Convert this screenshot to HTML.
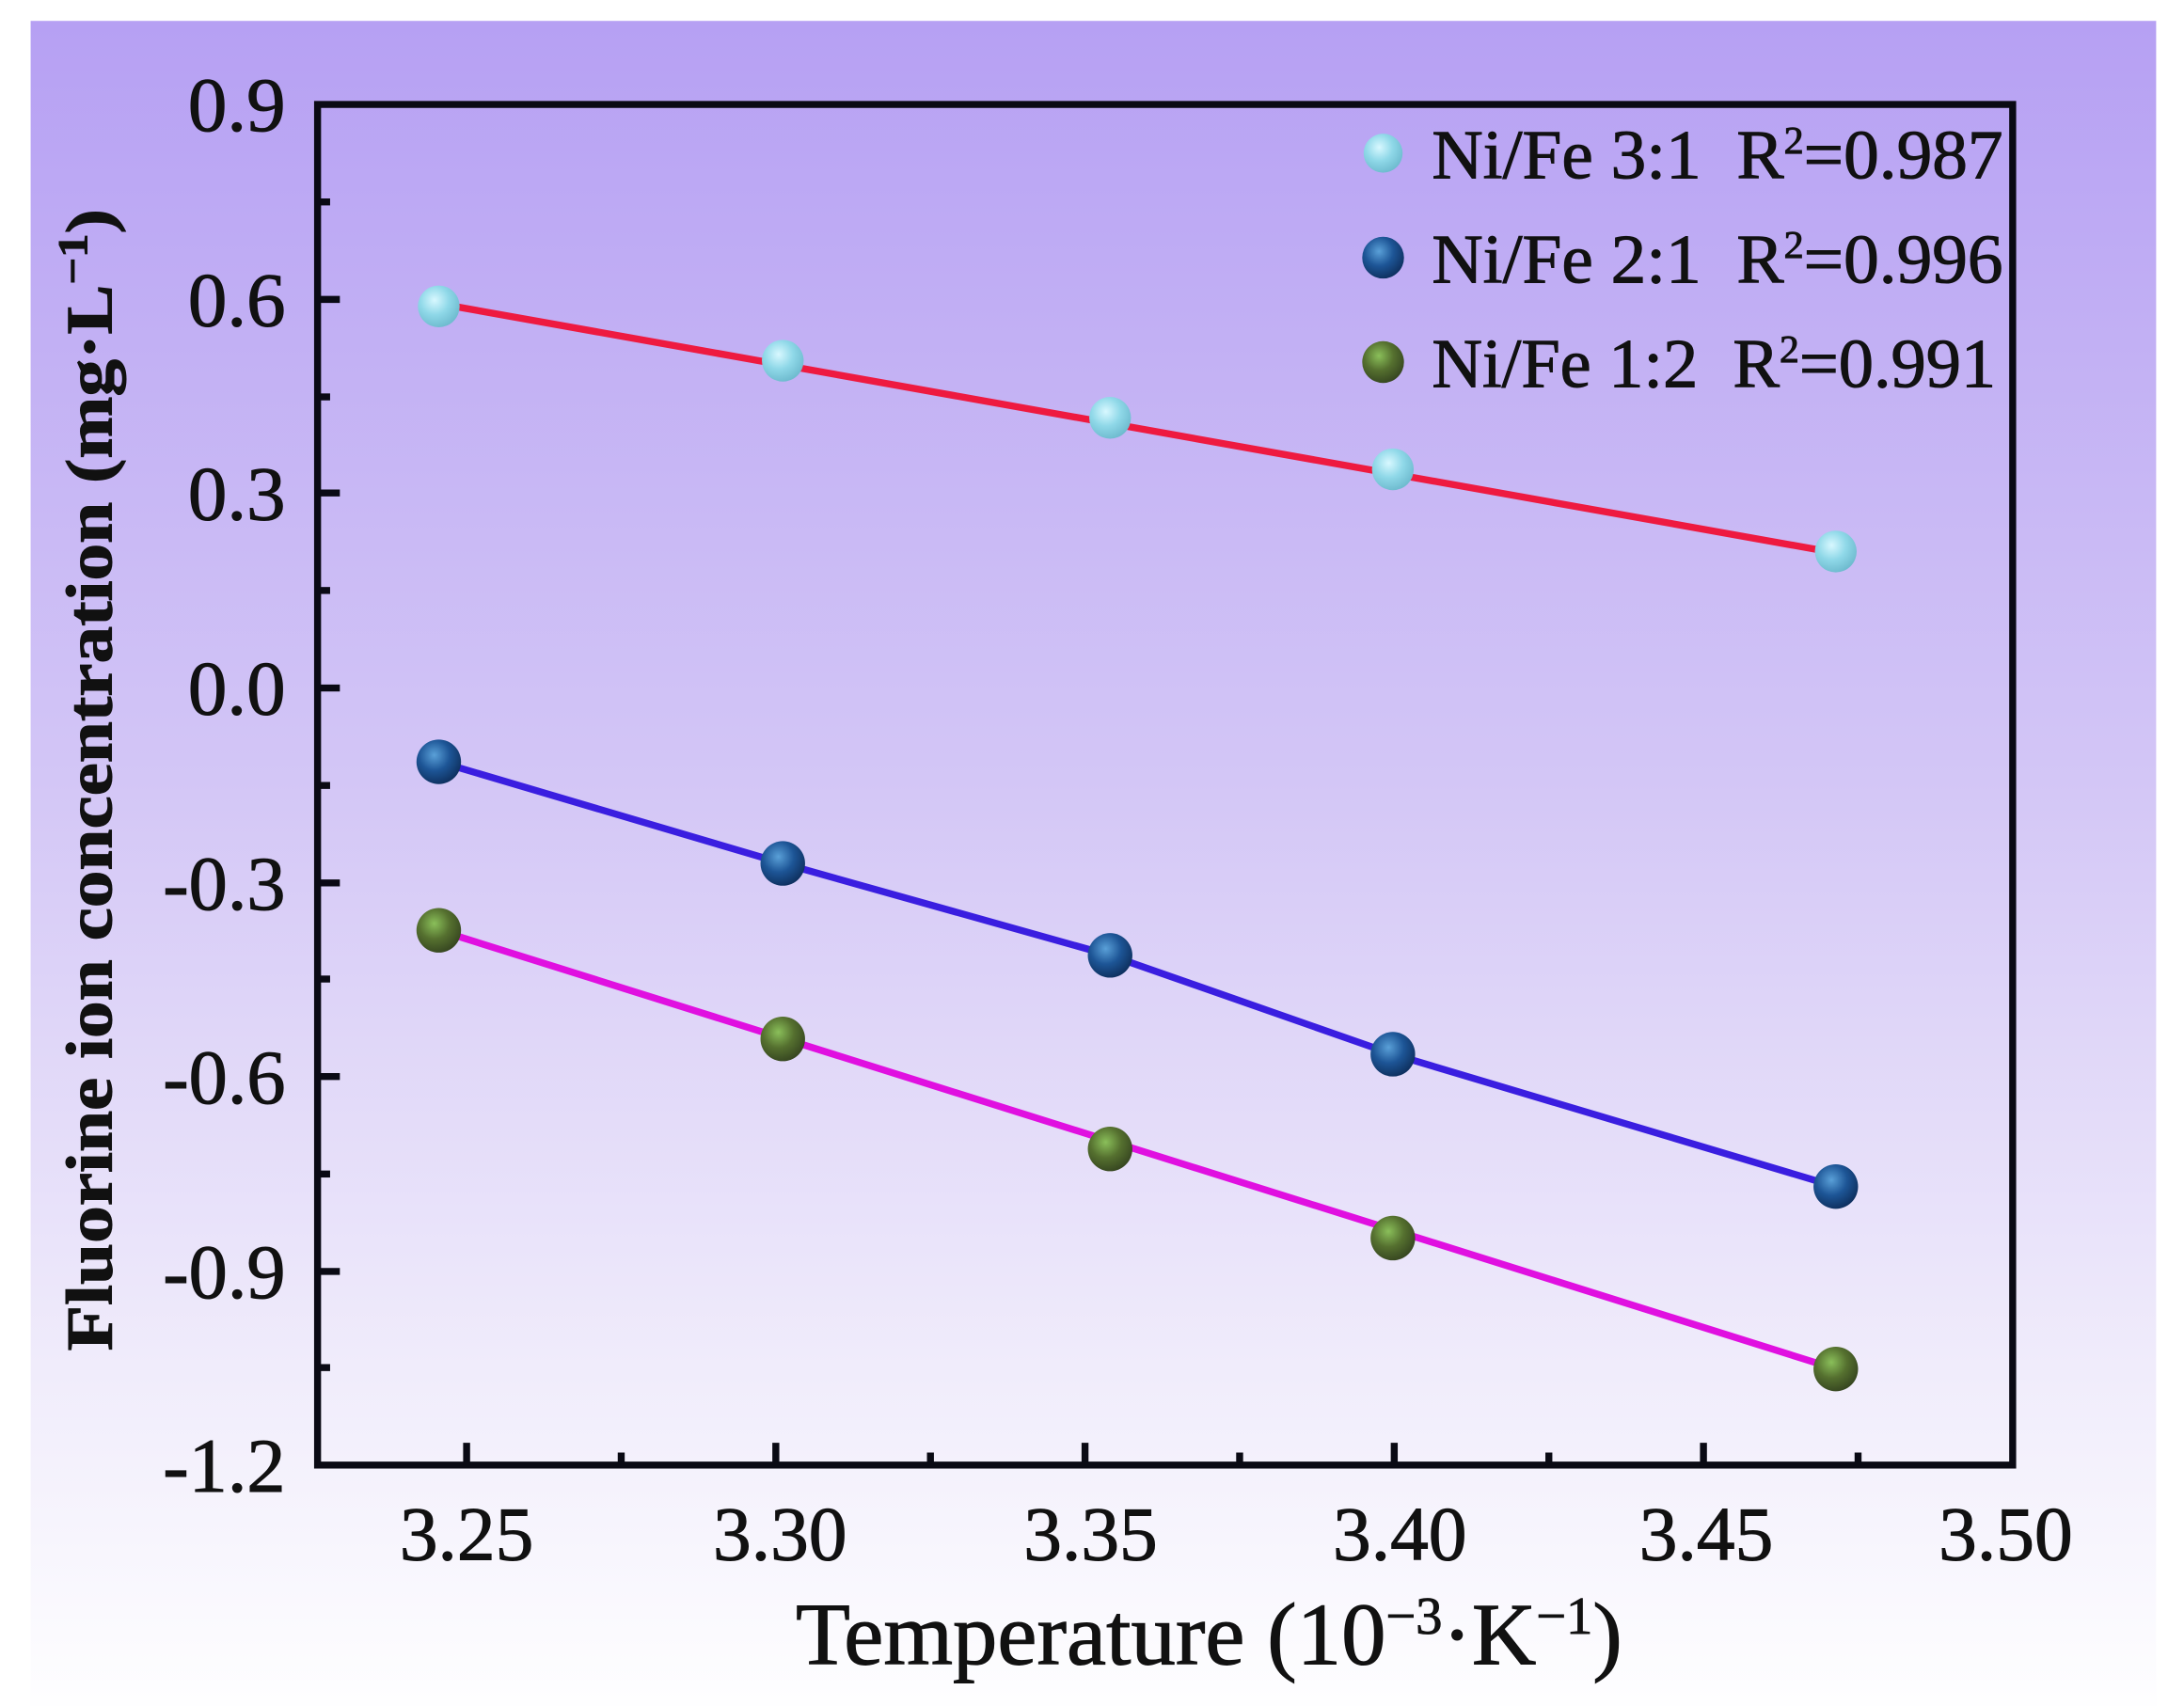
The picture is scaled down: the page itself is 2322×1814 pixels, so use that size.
<!DOCTYPE html>
<html><head><meta charset="utf-8"><style>
html,body{margin:0;padding:0;background:#fff;}
svg{display:block;}
text{font-family:"Liberation Serif",serif;fill:#111;stroke:#111;stroke-width:0.7;}
</style></head><body>
<svg width="2322" height="1814" viewBox="0 0 1568 1225" preserveAspectRatio="none" xmlns="http://www.w3.org/2000/svg">
<defs>
<linearGradient id="bg" x1="0" y1="0" x2="0" y2="1">
<stop offset="0" stop-color="#b6a0f3"/>
<stop offset="0.45" stop-color="#d3c6f6"/>
<stop offset="0.8" stop-color="#f0ecfb"/>
<stop offset="1" stop-color="#fefeff"/>
</linearGradient>
<radialGradient id="g1" cx="0.4" cy="0.35" r="0.7"><stop offset="0" stop-color="#d8f8ff"/><stop offset="0.5" stop-color="#8fd8e8"/><stop offset="1" stop-color="#6bb8cc"/></radialGradient>
<radialGradient id="g2" cx="0.4" cy="0.35" r="0.7"><stop offset="0" stop-color="#5aa0d8"/><stop offset="0.5" stop-color="#1d5596"/><stop offset="1" stop-color="#0d2d5a"/></radialGradient>
<radialGradient id="g3" cx="0.4" cy="0.35" r="0.7"><stop offset="0" stop-color="#8abf5a"/><stop offset="0.5" stop-color="#55702f"/><stop offset="1" stop-color="#34431f"/></radialGradient>
</defs>
<rect x="22" y="15" width="1526" height="1210" fill="url(#bg)"/>
<polyline points="315,218 1318,397" fill="none" stroke="#ee1a40" stroke-width="5"/>
<polyline points="315,547 562,620 797,686 1000,757 1318,852" fill="none" stroke="#3a1ee0" stroke-width="5"/>
<polyline points="315,668 1318,983" fill="none" stroke="#e010e0" stroke-width="5"/>
<g fill="url(#g1)"><circle cx="315" cy="220" r="15"/><circle cx="562" cy="259" r="15"/><circle cx="797" cy="300" r="15"/><circle cx="1000" cy="337" r="15"/><circle cx="1318" cy="396" r="15"/></g>
<g fill="url(#g2)"><circle cx="315" cy="547" r="16"/><circle cx="562" cy="620" r="16"/><circle cx="797" cy="686" r="16"/><circle cx="1000" cy="757" r="16"/><circle cx="1318" cy="852" r="16"/></g>
<g fill="url(#g3)"><circle cx="315" cy="668" r="16"/><circle cx="562" cy="746" r="16"/><circle cx="797" cy="825" r="16"/><circle cx="1000" cy="889" r="16"/><circle cx="1318" cy="983" r="16"/></g>
<rect x="228" y="75" width="1217" height="977" fill="none" stroke="#0a0a14" stroke-width="5"/>
<g stroke="#0a0a14" stroke-width="5">
<line x1="228" y1="215" x2="244" y2="215"/><line x1="228" y1="354" x2="244" y2="354"/><line x1="228" y1="494" x2="244" y2="494"/><line x1="228" y1="634" x2="244" y2="634"/><line x1="228" y1="773" x2="244" y2="773"/><line x1="228" y1="913" x2="244" y2="913"/>
<line x1="228" y1="145" x2="237" y2="145"/><line x1="228" y1="285" x2="237" y2="285"/><line x1="228" y1="424" x2="237" y2="424"/><line x1="228" y1="564" x2="237" y2="564"/><line x1="228" y1="703" x2="237" y2="703"/><line x1="228" y1="843" x2="237" y2="843"/><line x1="228" y1="982" x2="237" y2="982"/>
<line x1="335" y1="1052" x2="335" y2="1036"/><line x1="557" y1="1052" x2="557" y2="1036"/><line x1="779" y1="1052" x2="779" y2="1036"/><line x1="1001" y1="1052" x2="1001" y2="1036"/><line x1="1223" y1="1052" x2="1223" y2="1036"/>
<line x1="446" y1="1052" x2="446" y2="1043"/><line x1="668" y1="1052" x2="668" y2="1043"/><line x1="890" y1="1052" x2="890" y2="1043"/><line x1="1112" y1="1052" x2="1112" y2="1043"/><line x1="1334" y1="1052" x2="1334" y2="1043"/>
</g>
<g font-size="55" text-anchor="end">
<text x="205" y="94" textLength="70" lengthAdjust="spacingAndGlyphs">0.9</text><text x="205" y="234" textLength="70" lengthAdjust="spacingAndGlyphs">0.6</text><text x="205" y="373" textLength="70" lengthAdjust="spacingAndGlyphs">0.3</text><text x="205" y="513" textLength="70" lengthAdjust="spacingAndGlyphs">0.0</text><text x="205" y="653" textLength="88" lengthAdjust="spacingAndGlyphs">-0.3</text><text x="205" y="792" textLength="88" lengthAdjust="spacingAndGlyphs">-0.6</text><text x="205" y="932" textLength="88" lengthAdjust="spacingAndGlyphs">-0.9</text><text x="205" y="1071" textLength="88" lengthAdjust="spacingAndGlyphs">-1.2</text>
</g>
<g font-size="55" text-anchor="middle">
<text x="335" y="1120">3.25</text><text x="560" y="1120">3.30</text><text x="783" y="1120">3.35</text><text x="1005" y="1120">3.40</text><text x="1225" y="1120">3.45</text><text x="1440" y="1120">3.50</text>
</g>
<text x="868" y="1195" font-size="64" text-anchor="middle">Temperature (10<tspan font-size="38" dy="-22">−3</tspan><tspan dy="22">·K</tspan><tspan font-size="38" dy="-22">−1</tspan><tspan dy="22">)</tspan></text>
<text transform="translate(80,560) rotate(-90)" font-size="47" font-weight="bold" text-anchor="middle" textLength="820" lengthAdjust="spacingAndGlyphs">Fluorine ion concentration (mg·L<tspan font-size="30" dy="-18">−1</tspan><tspan dy="18">)</tspan></text>
<circle cx="993" cy="110" r="14" fill="url(#g1)"/>
<circle cx="993" cy="185" r="15" fill="url(#g2)"/>
<circle cx="993" cy="260" r="15" fill="url(#g3)"/>
<g font-size="50">
<text x="1028" y="128" textLength="410" lengthAdjust="spacingAndGlyphs">Ni/Fe 3:1&#160; R<tspan font-size="28" dy="-18">2</tspan><tspan dy="18">=0.987</tspan></text>
<text x="1028" y="203" textLength="410" lengthAdjust="spacingAndGlyphs">Ni/Fe 2:1&#160; R<tspan font-size="28" dy="-18">2</tspan><tspan dy="18">=0.996</tspan></text>
<text x="1028" y="278" textLength="405" lengthAdjust="spacingAndGlyphs">Ni/Fe 1:2&#160; R<tspan font-size="28" dy="-18">2</tspan><tspan dy="18">=0.991</tspan></text>
</g>
</svg>
</body></html>
